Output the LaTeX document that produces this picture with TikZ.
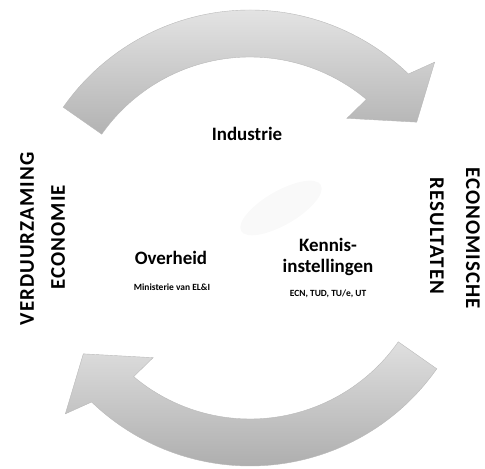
\documentclass[tikz,border=0pt]{standalone}
\usepackage{fontspec}
\setsansfont{Carlito}
\newfontfamily\sidefont[LetterSpace=5]{Carlito}
\usepackage{tikz}

\begin{document}
\begin{tikzpicture}[x=1bp,y=1bp,
  ringarrow/.style={draw=gray!55, line width=0.4pt},
  actor/.style={font=\sffamily\bfseries\fontsize{19}{21}\selectfont, align=center},
  actorsub/.style={font=\sffamily\bfseries\fontsize{9.5}{11}\selectfont},
  sidelabel/.style={font=\sidefont\bfseries\fontsize{21}{23}\selectfont}]
\useasboundingbox (0,0) rectangle (485,469);

\begin{scope}[shift={(250,231)}]
% upper arrow
\path[ringarrow, top color=gray!20, bottom color=gray!60]
  (145:228) arc[start angle=145, end angle=46, radius=228]
  -- (43.6:255) -- (34.8:203) -- (51:154) -- (50:181)
  arc[start angle=50, end angle=145, radius=181] -- cycle;

% lower arrow
\path[ringarrow, top color=gray!25, bottom color=gray!65]
  (325:228) arc[start angle=325, end angle=226, radius=228]
  -- (223.6:255) -- (214.8:203) -- (231:154) -- (230:181)
  arc[start angle=230, end angle=325, radius=181] -- cycle;
\end{scope}

% faint blob
\fill[gray!5, rotate around={30:(281,261)}] (281,261) ellipse [x radius=46, y radius=17];

% actors
\node[actor] (industrie) at (247,335) {Industrie};
\node[actor] (overheid) at (171,211) {Overheid};
\node[actorsub] (ministerie) at (172,182) {Ministerie van EL\&I};
\node[actor] (kennis) at (328,212) {Kennis-\\instellingen};
\node[actorsub] (instituten) at (328,175) {ECN, TUD, TU/e, UT};

% side labels
\node[sidelabel, rotate=90] (verduurzaming) at (27,230) {VERDUURZAMING};
\node[sidelabel, rotate=90] (economie) at (58,232) {ECONOMIE};
\node[sidelabel, rotate=-90] (economische) at (473,231) {ECONOMISCHE};
\node[sidelabel, rotate=-90] (resultaten) at (437,233) {RESULTATEN};
\end{tikzpicture}
\end{document}
